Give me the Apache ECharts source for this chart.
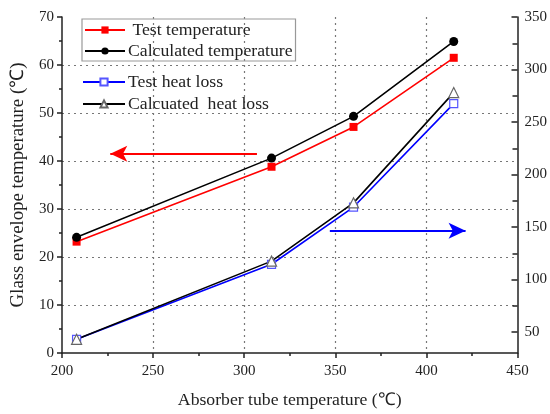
<!DOCTYPE html>
<html>
<head>
<meta charset="utf-8">
<script src="https://cdn.jsdelivr.net/npm/echarts@6/dist/echarts.min.js"></script>
<style>html,body{margin:0;padding:0;background:#fff}#c{width:550px;height:414px}</style>
</head>
<body>
<div id="c"></div>
<script>
const absorberTemp = [208, 315, 360, 415];
const testTemp = [23.2, 38.8, 47.1, 61.5];
const calcTemp = [24.1, 40.6, 49.3, 64.9];
const testHeatLoss = [43, 114.5, 169, 267.5];
const calcHeatLoss = [43, 117.5, 173, 278];
const leftTicks = [0, 10, 20, 30, 40, 50, 60, 70];
const rightTicks = [50, 100, 150, 200, 250, 300, 350];
const rightMinorTicks = [75, 125, 175, 225, 275, 325];
const xTicks = [200, 250, 300, 350, 400, 450];
const redArrow = [[307, 41.5], [226.5, 41.5]];
const blueArrow = [[347, 146.5], [421.5, 146.5]];

const FONT = "'Liberation Serif', 'Times New Roman', serif";
const pairs = (xs, ys) => xs.map((x, i) => [x, ys[i]]);

const chart = echarts.init(document.getElementById('c'), null, {renderer: 'canvas'});
const axisLineStyle = {color: '#222', width: 1.5};
const labelStyle = {fontFamily: FONT, fontSize: 15, color: '#222'};

chart.setOption({
  animation: false,
  textStyle: {fontFamily: FONT},
  grid: {left: 62, right: 32, top: 17, bottom: 59, containLabel: false},
  xAxis: {
    type: 'value', min: xTicks[0], max: xTicks[xTicks.length - 1], interval: 50,
    name: 'Absorber tube temperature (℃)', nameLocation: 'middle', nameGap: 38,
    nameTextStyle: {fontFamily: FONT, fontSize: 17.7, color: '#222'},
    axisLine: {show: true, onZero: false, lineStyle: axisLineStyle},
    axisTick: {show: true, length: 5, lineStyle: {color: '#222', width: 1.5}},
    minorTick: {show: true, splitNumber: 2, length: 3, lineStyle: {color: '#222', width: 1.5}},
    axisLabel: Object.assign({margin: 11}, labelStyle),
    splitLine: {show: true, showMinLine: false, showMaxLine: false, lineStyle: {color: '#777', type: [2, 4], width: 1.2}}
  },
  yAxis: [
    {
      type: 'value', position: 'left', min: leftTicks[0], max: leftTicks[leftTicks.length - 1], interval: 10,
      name: 'Glass envelope temperature (℃)', nameLocation: 'middle', nameGap: 34, nameRotate: 90,
      nameTextStyle: {fontFamily: FONT, fontSize: 18.8, color: '#222'},
      axisLine: {show: true, lineStyle: axisLineStyle},
      axisTick: {show: true, length: 5, lineStyle: {color: '#222', width: 1.5}},
      minorTick: {show: true, splitNumber: 2, length: 3, lineStyle: {color: '#222', width: 1.5}},
      axisLabel: Object.assign({margin: 8}, labelStyle),
      splitLine: {show: true, showMinLine: false, showMaxLine: false, lineStyle: {color: '#777', type: [2, 4], width: 1.2}}
    },
    {
      type: 'value', position: 'right', min: 30, max: 350,
      axisLine: {show: true, lineStyle: axisLineStyle},
      axisTick: {show: true, inside: true, length: 6, customValues: rightTicks, lineStyle: {color: '#222', width: 1.5}},
      axisLabel: Object.assign({margin: 7, customValues: rightTicks}, labelStyle),
      splitLine: {show: false}
    },
    {
      type: 'value', position: 'right', min: 30, max: 350,
      axisLine: {show: false},
      axisTick: {show: true, inside: true, length: 5, customValues: rightMinorTicks, lineStyle: {color: '#222', width: 1.5}},
      axisLabel: {show: false},
      splitLine: {show: false}
    }
  ],
  legend: [
    {
      data: ['Test temperature', 'Calculated temperature'],
      orient: 'vertical', left: 82, top: 19,
      formatter: n => n === 'Test temperature' ? ' ' + n : n,
      itemWidth: 40, itemHeight: 9, itemGap: 3,
      padding: [2, 3, 1, 2],
      borderColor: '#999', borderWidth: 1.2,
      textStyle: {fontFamily: FONT, fontSize: 17.7, color: '#222', padding: [0, 0, 0, -2]},
      selectedMode: false
    },
    {
      data: ['Test heat loss', 'Calcuated  heat loss'],
      orient: 'vertical', left: 80, top: 71,
      itemWidth: 42, itemHeight: 9, itemGap: 4,
      padding: [2, 4, 1, 2],
      textStyle: {fontFamily: FONT, fontSize: 17.7, color: '#222', padding: [0, 0, 0, -2]},
      selectedMode: false
    }
  ],
  series: [
    {
      name: 'Test temperature', type: 'line', yAxisIndex: 0, data: pairs(absorberTemp, testTemp),
      symbol: 'rect', symbolSize: 8, color: '#ff0000',
      lineStyle: {color: '#ff0000', width: 1.6}, itemStyle: {color: '#ff0000'},
      markLine: {
        silent: true, symbol: ['none', 'arrow'], symbolSize: [12, 17],
        label: {show: false},
        lineStyle: {color: '#ff0000', width: 2, type: 'solid'},
        data: [[{coord: redArrow[0]}, {coord: redArrow[1]}]]
      }
    },
    {
      name: 'Calculated temperature', type: 'line', yAxisIndex: 0, data: pairs(absorberTemp, calcTemp),
      symbol: 'circle', symbolSize: 9, color: '#000',
      lineStyle: {color: '#000', width: 1.6}, itemStyle: {color: '#000'}
    },
    {
      name: 'Test heat loss', type: 'line', yAxisIndex: 1, data: pairs(absorberTemp, testHeatLoss),
      symbol: 'rect', symbolSize: 8, color: '#0000ff',
      lineStyle: {color: '#0000ff', width: 1.6},
      itemStyle: {color: '#fff', borderColor: '#5555ff', borderWidth: 1.2},
      markLine: {
        silent: true, symbol: ['none', 'arrow'], symbolSize: [12, 17],
        label: {show: false},
        lineStyle: {color: '#0000ff', width: 2, type: 'solid'},
        data: [[{coord: blueArrow[0]}, {coord: blueArrow[1]}]]
      }
    },
    {
      name: 'Calcuated  heat loss', type: 'line', yAxisIndex: 1, data: pairs(absorberTemp, calcHeatLoss),
      symbol: 'triangle', symbolSize: 10, color: '#000',
      lineStyle: {color: '#000', width: 1.6},
      itemStyle: {color: '#fff', borderColor: '#666', borderWidth: 1.2}
    }
  ]
});
</script>
</body>
</html>
